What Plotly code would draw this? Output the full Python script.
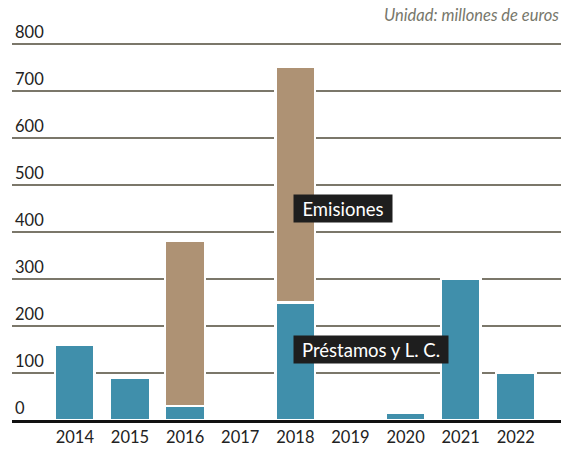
import plotly.graph_objects as go

years = [2014, 2015, 2016, 2017, 2018, 2019, 2020, 2021, 2022]
year_labels = ["2014", "2015", "2016", "2017", "2018", "2019", "2020", "2021", "2022"]
prestamos = [160, 90, 30, 0, 250, 0, 16, 300, 100]
emisiones = [0, 0, 350, 0, 500, 0, 0, 0, 0]
y_ticks = [0, 100, 200, 300, 400, 500, 600, 700, 800]

teal = "#408FAB"
tan = "#AE9274"
grid = "#7B776A"
font = "Lato"

TOP, BOTTOM = 20, 30

fig = go.Figure()
fig.add_trace(go.Bar(x=years, y=prestamos, name="Préstamos y L. C.",
                     marker=dict(color=teal, line=dict(color="white", width=2.5)),
                     width=0.72, hoverinfo="skip"))
fig.add_trace(go.Bar(x=years, y=emisiones, name="Emisiones",
                     marker=dict(color=tan, line=dict(color="white", width=2.5)),
                     width=0.72, hoverinfo="skip"))

fig.update_layout(
    barmode="stack",
    width=561, height=450,
    margin=dict(l=12, r=0, t=TOP, b=BOTTOM, autoexpand=False),
    plot_bgcolor="white", paper_bgcolor="white",
    showlegend=False,
    font=dict(family=font, size=16, color="#222222"),
    xaxis=dict(
        range=[2012.86, 2022.82],
        tickmode="array", tickvals=years, ticktext=year_labels,
        showgrid=False, zeroline=False,
        showline=True, linecolor="#111111", linewidth=2.5,
        ticks="", tickfont=dict(size=16.5, color="#222222"),
        automargin=False, fixedrange=True,
    ),
    yaxis=dict(
        range=[0, 850],
        tickmode="array", tickvals=y_ticks, ticktext=[str(v) for v in y_ticks],
        showgrid=True, gridcolor=grid, gridwidth=2,
        zeroline=False, showline=False, ticks="",
        ticklabelposition="inside top",
        tickfont=dict(size=16.5, color="#222222"),
        automargin=False, fixedrange=True,
    ),
    bargap=0.3,
)

fig.add_annotation(x=2018.87, y=450, xref="x", yref="y", text="Emisiones",
                   showarrow=False, bgcolor="#1E1E1E", font=dict(color="white", size=18.5, family=font),
                   width=92, height=21, borderpad=3)
fig.add_annotation(x=2019.37, y=150, xref="x", yref="y", text="Préstamos y L. C.",
                   showarrow=False, bgcolor="#1E1E1E", font=dict(color="white", size=18.5, family=font),
                   width=148, height=21, borderpad=3)
fig.add_annotation(x=1, y=1 + (TOP - 15) / (450 - TOP - BOTTOM), xref="paper", yref="paper",
                   xanchor="right", yanchor="middle",
                   text="<i>Unidad: millones de euros</i>", showarrow=False,
                   font=dict(color="#77776B", size=16.5, family=font))

fig.write_html("out.html", config={"displayModeBar": False},
               post_script="document.body.style.margin='0';")
